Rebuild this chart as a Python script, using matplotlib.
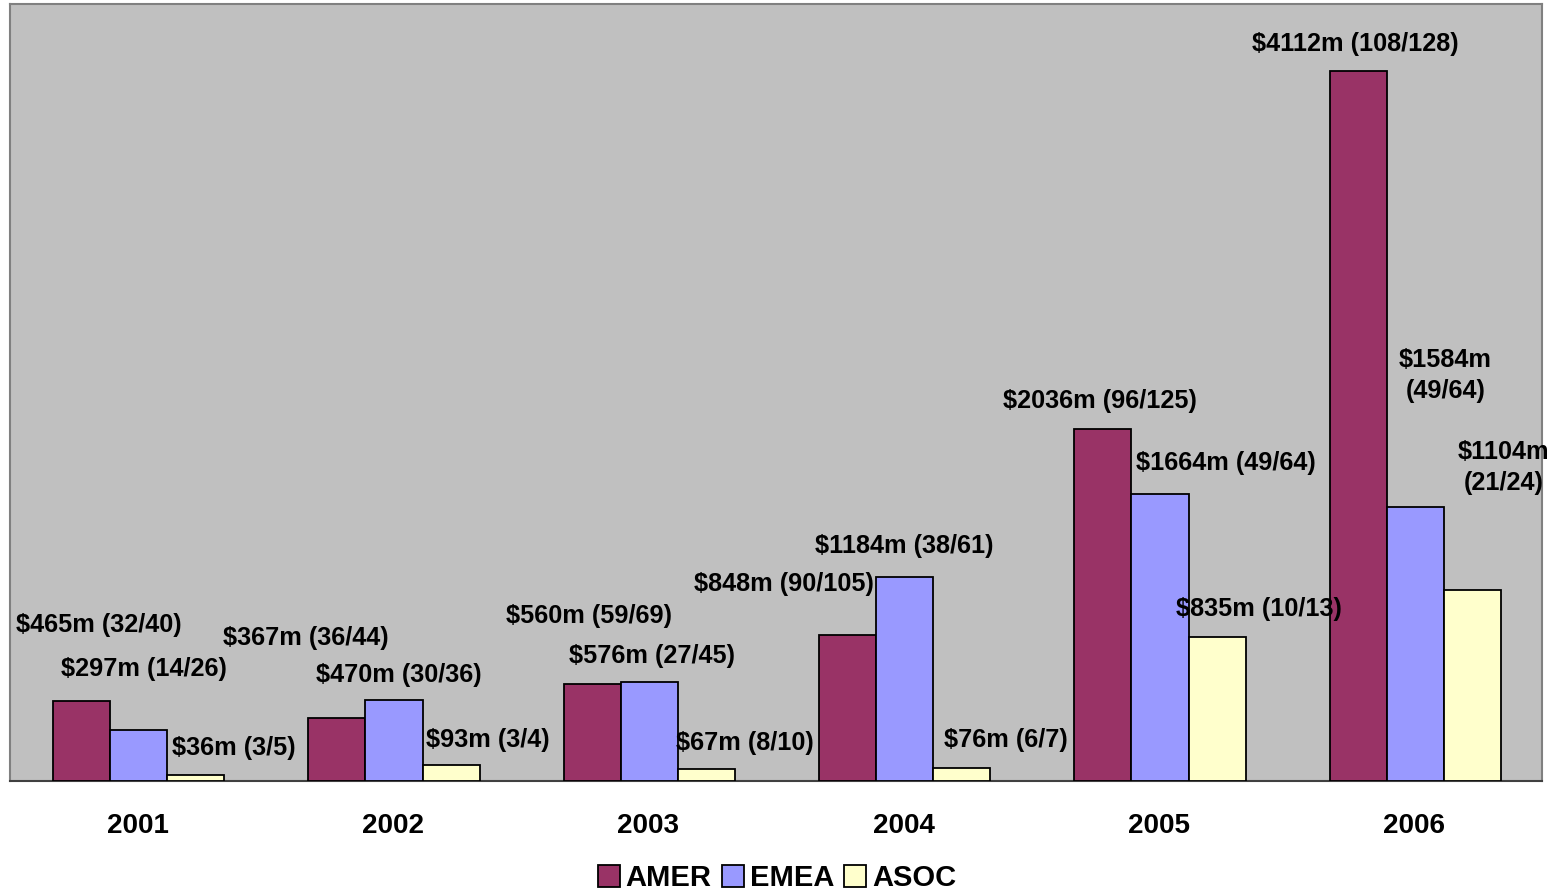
import matplotlib
matplotlib.use("Agg")
import matplotlib.pyplot as plt
import numpy as np

years = ["2001", "2002", "2003", "2004", "2005", "2006"]
series_names = ["AMER", "EMEA", "ASOC"]
amer = [465, 367, 560, 848, 2036, 4112]
emea = [297, 470, 576, 1184, 1664, 1584]
asoc = [36, 93, 67, 76, 835, 1104]
amer_labels = ["$465m (32/40)", "$367m (36/44)", "$560m (59/69)", "$848m (90/105)",
               "$2036m (96/125)", "$4112m (108/128)"]
emea_labels = ["$297m (14/26)", "$470m (30/36)", "$576m (27/45)", "$1184m (38/61)",
               "$1664m (49/64)", "$1584m\n(49/64)"]
asoc_labels = ["$36m (3/5)", "$93m (3/4)", "$67m (8/10)", "$76m (6/7)",
               "$835m (10/13)", "$1104m\n(21/24)"]

colors = ["#993366", "#9999FF", "#FFFFCC"]

# label offsets (pixels) relative to top-centre of each bar
amer_off = [(17, 76), (-31, 80), (-3, 68), (-64, 51), (-3, 28), (-3, 27)]
emea_off = [(5, 61), (5, 25), (3, 26), (0, 31), (66, 31), (30, 132)]
asoc_off = [(38, 27), (37, 25), (38, 26), (44, 28), (42, 28), (31, 123)]

plt.rcParams['font.family'] = ['Liberation Sans', 'DejaVu Sans']

W, H = 1555, 891
fig = plt.figure(figsize=(W / 100, H / 100), dpi=100)
ax = fig.add_axes([10 / W, (H - 781) / H, (1542 - 10) / W, (781 - 4) / H])
ax.set_facecolor("#C0C0C0")

x = np.arange(len(years))
bw = 0.2235
all_vals = [amer, emea, asoc]
all_labels = [amer_labels, emea_labels, asoc_labels]
all_offs = [amer_off, emea_off, asoc_off]
handles = []
for i, (vals, labs, offs) in enumerate(zip(all_vals, all_labels, all_offs)):
    pos = x + (i - 1) * bw + 0.004
    b = ax.bar(pos, vals, width=bw, color=colors[i], edgecolor="black",
               linewidth=1.3, label=series_names[i], zorder=3)
    handles.append(b)
    for px, v, lab, (dx, dy) in zip(pos, vals, labs, offs):
        ax.annotate(lab, xy=(px, v), xytext=(dx, dy), textcoords="offset pixels",
                    ha="center", va="center", fontsize=18.2, fontweight="bold",
                    color="black", zorder=5, linespacing=1.4)

ax.set_xlim(-0.5, len(years) - 0.5)
ax.set_ylim(0, 4500)
ax.set_yticks([])
ax.set_xticks(x)
ax.set_xticklabels(years, fontsize=20, fontweight="bold")
ax.tick_params(axis="x", length=0, pad=23)
for s in ["left", "top", "right"]:
    ax.spines[s].set_color("#808080")
    ax.spines[s].set_linewidth(1.5)
ax.spines["bottom"].set_color("#404040")
ax.spines["bottom"].set_linewidth(1.5)

leg = fig.legend(handles=handles, labels=series_names, loc="center",
                 bbox_to_anchor=(777 / W, (H - 878) / H), ncol=3, frameon=False,
                 prop={"size": 21, "weight": "bold"}, handlelength=0.75,
                 handleheight=0.75, handletextpad=0.2, columnspacing=0.35,
                 borderaxespad=0)

fig.savefig("out.png", dpi=100)
